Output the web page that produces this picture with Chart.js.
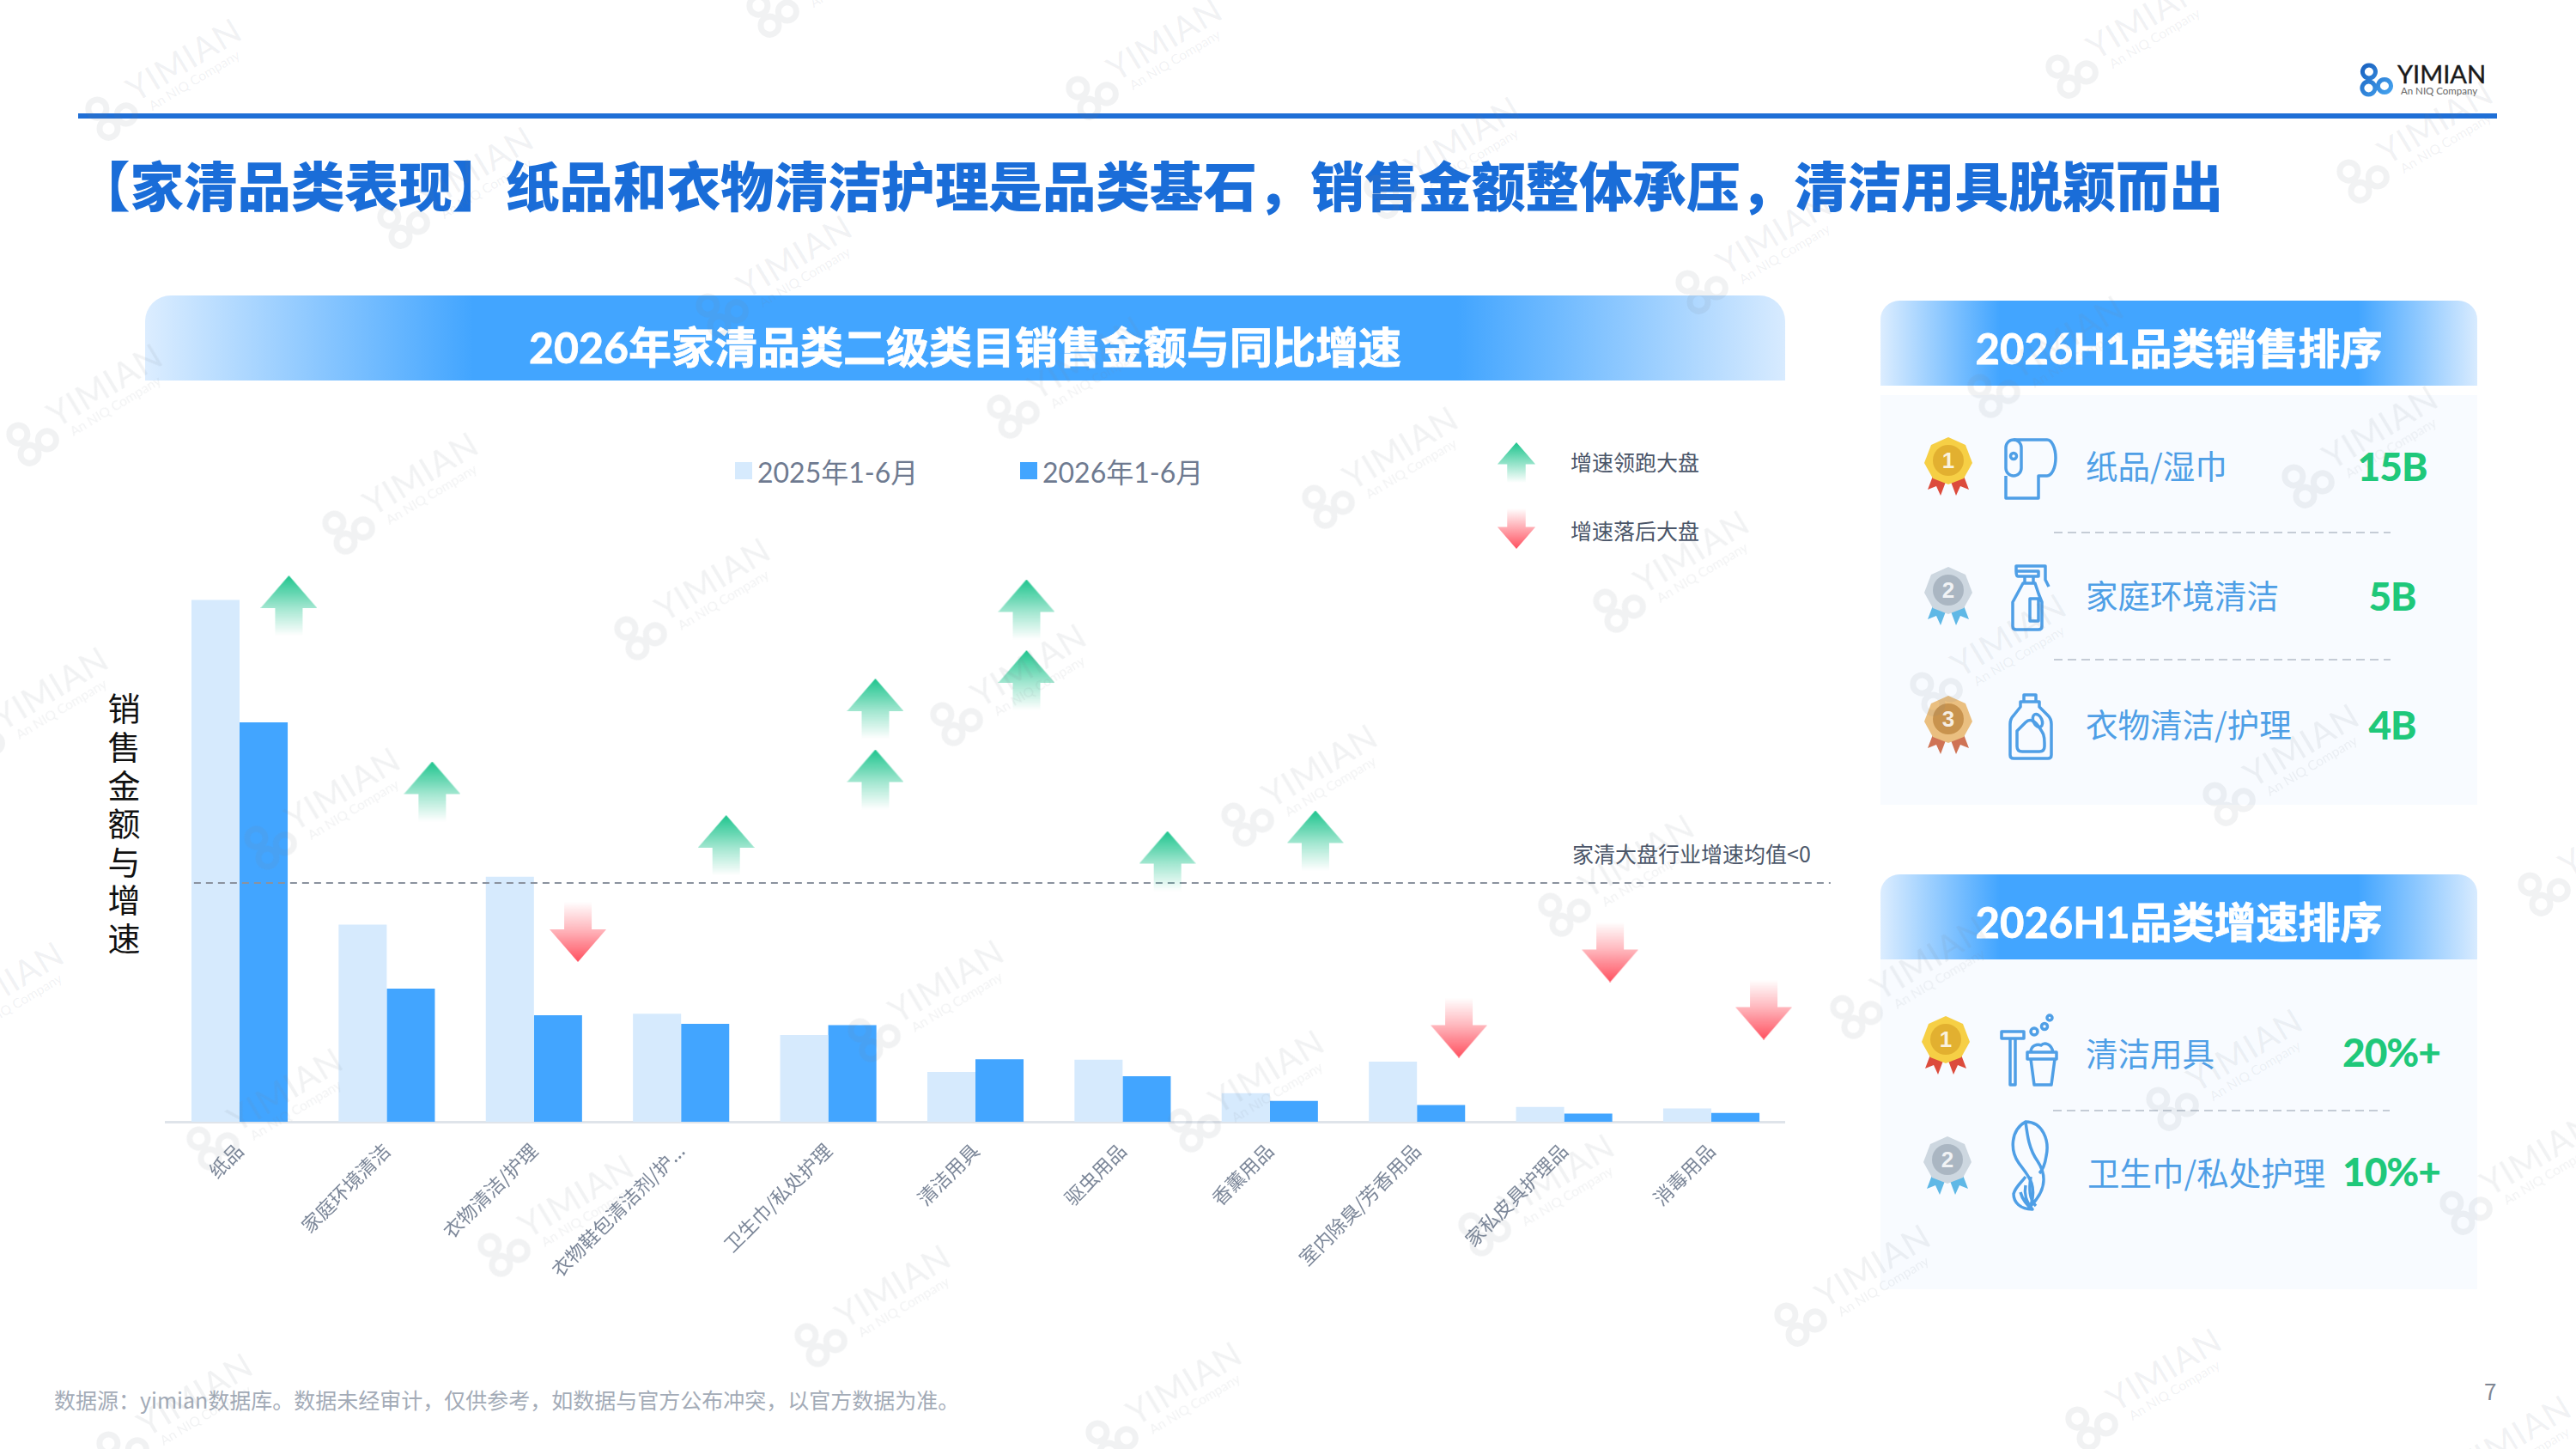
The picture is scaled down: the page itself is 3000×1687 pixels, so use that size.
<!DOCTYPE html>
<html lang="zh-CN">
<head>
<meta charset="utf-8">
<title>家清品类表现</title>
<script src="https://cdn.jsdelivr.net/npm/chart.js@4/dist/chart.umd.min.js"></script>
<style>
  html, body { margin: 0; padding: 0; background: #fff; }
  body { position: relative; width: 3000px; height: 1687px; overflow: hidden; font-family: "Noto Sans CJK SC", sans-serif; }
  .abs { position: absolute; white-space: nowrap; }
  .rule { left: 91px; top: 132px; width: 2817px; height: 6px; background: #1f6fd6; }
  .page-title { left: 89px; top: 168px; font-size: 62.500px; line-height: 92px; font-weight: 900; color: #1a6dd8; }
  .head { color: #fff; font-weight: 700; text-align: center; font-family: Lato, "Noto Sans CJK SC", sans-serif; -webkit-text-stroke: 0.800px #fff;
    background: linear-gradient(90deg, #dcedff 0%, #42a5ff 20%, #42a5ff 80%, #d8ebff 100%); border-radius: 30px 30px 0 0; }
  .panel { left: 2190px; width: 695px; background: #f8fbff; }
  .rank-label { left: 0; font-size: 37.500px; line-height: 50px; color: #4f9fe6; transform: translateY(-50%); }
  .rank-value { font-size: 46px; line-height: 60px; font-weight: 900; letter-spacing: -1px; color: #1fc87a; transform: translate(-50%, -50%); font-family: Lato, "Noto Sans CJK SC", sans-serif; }
  .dash { height: 2px; background: repeating-linear-gradient(90deg, #c5ccd6 0 10px, transparent 10px 16px); }
  .note { font-size: 25px; line-height: 32px; color: #4a5568; transform: translateY(-50%); }
  .legend-item { display: flex; align-items: center; top: 528px; height: 40px; font-size: 32px; color: #6e7a90; font-family: Lato, "Noto Sans CJK SC", sans-serif; }
  .legend-item i { width: 20px; height: 20px; margin-right: 6px; display: block; }
  .y-title { left: 122px; top: 806px; font-size: 38px; line-height: 44px; letter-spacing: 6.600px; color: #111; writing-mode: vertical-rl; text-orientation: upright; }
  .source { left: 63px; top: 1613px; font-size: 25px; line-height: 32px; color: #a3abb7; }
  .page-no { left: 2893px; top: 1604px; font-size: 26px; line-height: 30px; color: #7f8794; }
  #chartBox { position: absolute; left: 100px; top: 450px; }
  .wm { position: absolute; width: 0; height: 0; transform: rotate(-31deg); pointer-events: none; color: rgba(115, 125, 140, 0.1); z-index: 20; font-family: Lato, sans-serif; }
  .wm b { position: absolute; left: -72px; top: -23px; font-size: 40px; line-height: 46px; font-weight: 400; letter-spacing: 1px; white-space: nowrap; }
  .wm span { position: absolute; left: -60px; top: 18px; font-size: 15.500px; line-height: 18px; white-space: nowrap; }
  .wm svg { position: absolute; left: -129px; top: -17px; }
</style>
</head>
<body>
<div class="abs rule"></div>
<div class="abs page-title">【家清品类表现】纸品和衣物清洁护理是品类基石，销售金额整体承压，清洁用具脱颖而出</div>

<svg class="abs" style="left:2748px;top:73px" width="40" height="40" viewBox="0 0 40 40" fill="none">
  <defs><linearGradient id="logoInk" x1="0" y1="0" x2="1" y2="1"><stop offset="0" stop-color="#1a62c0"/><stop offset="1" stop-color="#46a4f0"/></linearGradient></defs>
  <path d="M11 3a7.500 7.500 0 1 1-.1 0ZM10.500 22a7.500 7.500 0 1 1-.1 0ZM29 19.500a7.500 7.500 0 1 1-.1 0Z" stroke="url(#logoInk)" stroke-width="5"/>
</svg>
<div class="abs" style="left:2792px;top:68px;font:400 29px/36px Lato,sans-serif;-webkit-text-stroke:0.400px #1a1a1a;color:#1a1a1a">YIMIAN</div>
<div class="abs" style="left:2796px;top:99px;font:400 11.500px/14px Lato,sans-serif;color:#666">An NIQ Company</div>

<div class="abs head" style="left:169px;top:344px;width:1910px;height:99px;font-size:50px;line-height:120px;overflow:hidden">2026年家清品类二级类目销售金额与同比增速</div>
<div class="abs y-title">销售金额与增速</div>
<div id="legendBox"></div>

<svg class="abs" style="left:1742px;top:515px" width="48" height="47" viewBox="0 0 66 70">
  <defs>
    <linearGradient id="upInk" x1="0" y1="0" x2="0" y2="1"><stop offset="0" stop-color="#1dc48d"/><stop offset="0.55" stop-color="#1dc48d" stop-opacity="0.45"/><stop offset="1" stop-color="#1dc48d" stop-opacity="0"/></linearGradient>
    <linearGradient id="downInk" x1="0" y1="1" x2="0" y2="0"><stop offset="0" stop-color="#ff505f"/><stop offset="0.55" stop-color="#ff505f" stop-opacity="0.45"/><stop offset="1" stop-color="#ff505f" stop-opacity="0"/></linearGradient>
  </defs>
  <path d="M33 0L66 38H49V70H17V38H0Z" fill="url(#upInk)"/>
</svg>
<svg class="abs" style="left:1742px;top:592px" width="48" height="47" viewBox="0 0 66 70">
  <path d="M33 70L66 32H49V0H17V32H0Z" fill="url(#downInk)"/>
</svg>
<div class="abs note" style="left:1829px;top:537px">增速领跑大盘</div>
<div class="abs note" style="left:1829px;top:617px">增速落后大盘</div>
<div class="abs note" style="left:1831px;top:993px">家清大盘行业增速均值&lt;0</div>

<div id="chartBox"><canvas id="mainChart" width="2100" height="1116"></canvas></div>

<div class="abs head" style="left:2190px;top:350px;width:695px;height:99px;font-size:49px;line-height:110px;border-radius:22px 22px 0 0">2026H1品类销售排序</div>
<div class="abs panel" style="top:460px;height:477px"></div>
<div class="abs head" style="left:2190px;top:1018px;width:695px;height:99px;font-size:49px;line-height:110px;border-radius:22px 22px 0 0">2026H1品类增速排序</div>
<div class="abs panel" style="top:1117px;height:384px"></div>
<div id="rankBox"></div>

<div class="abs source">数据源：yimian数据库。数据未经审计，仅供参考，如数据与官方公布冲突，以官方数据为准。</div>
<div class="abs page-no">7</div>
<div id="wmBox"></div>

<script>
const categories = ["纸品", "家庭环境清洁", "衣物清洁/护理", "衣物鞋包清洁剂/护...", "卫生巾/私处护理", "清洁用具", "驱虫用品", "香薰用品", "室内除臭/芳香用品", "家私皮具护理品", "消毒用品"];
const seriesNames = ["2025年1-6月", "2026年1-6月"];
const sales2025 = [19.6, 7.4, 9.2, 4.06, 3.26, 1.87, 2.33, 1.07, 2.26, 0.56, 0.5];
const sales2026 = [15.0, 5.0, 4.0, 3.68, 3.63, 2.35, 1.71, 0.78, 0.63, 0.31, 0.33];

// growth vs. the market average (0 = dashed line), unit is arbitrary
const riseX = [0.335, 1.309, 3.306, 4.32, 4.32, 5.347, 5.347, 6.305, 7.31];
const riseY = [32.3, 10.65, 4.4, 20.3, 12.05, 31.85, 23.6, 2.55, 4.95];
const fallX = [2.299, 8.285, 9.312, 10.356];
const fallY = [-5.7, -16.85, -8.05, -14.75];
const avgX = [-0.31, 10.81];
const avgY = [0, 0];

const salesRankNames = ["纸品/湿巾", "家庭环境清洁", "衣物清洁/护理"];
const salesRankValues = ["15B", "5B", "4B"];
const growthRankNames = ["清洁用具", "卫生巾/私处护理"];
const growthRankValues = ["20%+", "10%+"];

const COLOR_2025 = "#d6eafd";
const COLOR_2026 = "#42a5ff";
const Y_MAX = 25;

// watermark text centres, full size px
const wmSpots = [
  [212, 70], [982, -50], [1354, 46], [552, 196], [923, 299], [120, 449], [488, 552], [1262, 417], [828, 675], [1196, 775], [57, 802],
  [2495, 21], [2834, 143], [2064, 272], [1701, 161], [2404, 393], [1629, 522], [2770, 498], [1968, 643], [2337, 740],
  [397, 919], [1100, 1143], [330, 1269], [669, 1393], [1038, 1498], [1377, 1611], [1535, 892], [1473, 1248], [225, 1624], [5, 1145],
  [1904, 997], [2244, 1116], [2678, 868], [2612, 1223], [3045, 973], [2954, 1344], [1811, 1369], [2179, 1474], [2518, 1595], [2925, 1673],
];

function makeArrow(up) {
  const w = 66;
  const h = 70;
  const c = document.createElement("canvas");
  c.width = w;
  c.height = h;
  const ctx = c.getContext("2d");
  const rgb = up ? "29,196,141" : "255,80,95";
  const grad = ctx.createLinearGradient(0, up ? 0 : h, 0, up ? h : 0);
  grad.addColorStop(0, `rgba(${rgb},1)`);
  grad.addColorStop(0.55, `rgba(${rgb},0.4)`);
  grad.addColorStop(1, `rgba(${rgb},0)`);
  ctx.fillStyle = grad;
  ctx.beginPath();
  if (up) {
    ctx.moveTo(33, 0); ctx.lineTo(66, 38); ctx.lineTo(49, 38); ctx.lineTo(49, 70); ctx.lineTo(17, 70); ctx.lineTo(17, 38); ctx.lineTo(0, 38);
  } else {
    ctx.moveTo(33, 70); ctx.lineTo(66, 32); ctx.lineTo(49, 32); ctx.lineTo(49, 0); ctx.lineTo(17, 0); ctx.lineTo(17, 32); ctx.lineTo(0, 32);
  }
  ctx.closePath();
  ctx.fill();
  return c;
}

function toPoints(xs, ys) {
  return xs.map((x, i) => ({ x, y: ys[i] }));
}

function renderChart() {
  const canvas = document.getElementById("mainChart");
  // parsing off so the x values stay fractional on the category axis; a second x axis would halve the bars
  const arrowSet = (label, xs, ys, up) => ({
    type: "scatter",
    label,
    data: toPoints(xs, ys),
    parsing: false,
    yAxisID: "yGrowth",
    pointStyle: makeArrow(up),
    pointRadius: 33,
    order: 1,
    clip: false,
  });

  return new Chart(canvas, {
    data: {
      labels: categories,
      datasets: [
        { type: "bar", label: seriesNames[0], data: sales2025, backgroundColor: COLOR_2025, order: 3, barPercentage: 1, categoryPercentage: 0.654 },
        { type: "bar", label: seriesNames[1], data: sales2026, backgroundColor: COLOR_2026, order: 3, barPercentage: 1, categoryPercentage: 0.654 },
        {
          type: "scatter",
          label: "均值",
          data: toPoints(avgX, avgY),
          parsing: false,
          yAxisID: "yGrowth",
          showLine: true,
          borderColor: "#8a929e",
          borderWidth: 2,
          borderDash: [8, 6],
          pointRadius: 0,
          order: 2,
          clip: false,
        },
        arrowSet("领跑", riseX, riseY, true),
        arrowSet("落后", fallX, fallY, false),
      ],
    },
    options: {
      responsive: false,
      animation: false,
      indexAxis: "x",
      events: [],
      layout: { padding: { left: 93.3, right: 121.3, top: 81, bottom: 0 } },
      plugins: { legend: { display: false }, tooltip: { enabled: false } },
      scales: {
        x: {
          type: "category",
          grid: { display: false },
          border: { display: true, color: "#dfe4ea", width: 3 },
          ticks: { color: "#7c8799", font: { size: 22.5, family: '"Noto Sans CJK SC"' }, minRotation: 45, maxRotation: 45, padding: 12, autoSkip: false },
          afterFit(scale) { scale.height = 260; },
        },
        y: { display: false, min: 0, max: Y_MAX },
        yGrowth: { type: "linear", display: false, min: -27.8, max: 49.7 },
      },
    },
  });
}

function renderLegend() {
  const box = document.getElementById("legendBox");
  const lefts = [856, 1188];
  box.innerHTML = seriesNames
    .map((name, i) => `<div class="abs legend-item" style="left:${lefts[i]}px"><i style="background:${i ? COLOR_2026 : COLOR_2025}"></i>${name}</div>`)
    .join("");
}

function medal(rank, x, y) {
  const inks = [
    ["#f6cf45", "#e2b030", "#dc4b3c"],
    ["#cdd7e0", "#aab6c2", "#5fb8e6"],
    ["#eabf80", "#c8934e", "#cf7355"],
  ][rank - 1];
  return `<svg class="abs" style="left:${x - 28}px;top:${y - 34}px" width="56" height="68" viewBox="0 0 56 68">
    <path d="M12 40L4 61L14 57L19 68L28 44Z" fill="${inks[2]}"/><path d="M44 40L52 61L42 57L37 68L28 44Z" fill="${inks[2]}"/>
    <path d="M28 0L48 9L56 30L46 48L28 55L10 48L0 30L8 9Z" fill="${inks[0]}"/>
    <circle cx="28" cy="27" r="18" fill="${inks[1]}"/>
    <text x="28" y="36" text-anchor="middle" font-size="26" font-weight="700" font-family="Liberation Sans" fill="#fff" fill-opacity="0.85">${rank}</text>
  </svg>`;
}

const ICONS = [
  // roll
  `<svg viewBox="0 0 62 74" width="62" height="74"><rect x="2" y="4" width="18" height="42" rx="9"/><circle cx="11" cy="23" r="3.500"/><path d="M11 4H50a10 21 0 0 1 0 42H40V72H2V46"/></svg>`,
  // spray
  `<svg viewBox="0 0 46 78" width="46" height="78"><path d="M6 8V2H40V18L44 26M6 8H32V14H8Q6 14 6 8ZM16 14V22H26V14M14 22H28L32 34V34L36 44V72Q36 76 32 76H6Q2 76 2 72V44ZM22 40H32V66H22Z"/></svg>`,
  // detergent
  `<svg viewBox="0 0 52 78" width="52" height="78"><path d="M18 2H32V10H18ZM14 10H36V16L46 26Q50 30 50 36V72Q50 76 46 76H6Q2 76 2 72V36Q2 30 6 26L14 16Z"/><path d="M10 44L20 34C26 28 32 34 36 40C40 46 42 48 42 58V62Q42 68 36 68H16Q10 68 10 62Z"/><ellipse cx="34" cy="32" rx="5" ry="8" transform="rotate(-25 34 32)"/></svg>`,
  // squeegee and bucket
  `<svg viewBox="0 0 68 88" width="68" height="88"><path d="M2 22H28V30H2Z M12 30V84H18V30"/><path d="M32 46H66V54H32ZM36 54L40 84H60L64 54M36 46C36 38 44 36 48 38C52 34 60 36 62 46"/><circle cx="40" cy="22" r="4"/><circle cx="52" cy="16" r="3.500"/><circle cx="58" cy="6" r="3"/></svg>`,
  // hair
  `<svg viewBox="0 0 48 106" width="48" height="106"><path d="M20 2C2 12 2 36 12 50C22 64 34 74 26 100C42 84 46 66 34 48C24 34 22 18 20 2C40 2 48 24 44 42C42 56 38 60 36 62"/><path d="M14 84C16 92 22 100 28 104C14 104 6 96 6 86C8 78 14 74 20 66M20 76C18 86 20 94 28 104M26 66C24 80 24 92 32 100"/></svg>`,
];

function icon(index, x, y) {
  return `<div class="abs rank-icon" style="left:${x}px;top:${y}px;transform:translate(-50%,-50%);line-height:0">${ICONS[index].replace("<svg ", '<svg fill="none" stroke="#4f9fe6" stroke-width="3.500" stroke-linejoin="round" ')}</div>`;
}

function renderRanks() {
  const rows = [];
  const labelX = 2429;
  const salesY = [543, 694, 844];
  salesRankNames.forEach((name, i) => {
    rows.push(medal(i + 1, 2269, salesY[i]));
    rows.push(icon(i, 2365, salesY[i] + 2));
    rows.push(`<div class="abs rank-label" style="left:${labelX}px;top:${salesY[i] - 2}px">${name}</div>`);
    rows.push(`<div class="abs rank-value" style="left:2786px;top:${salesY[i]}px">${salesRankValues[i]}</div>`);
  });
  [619, 767].forEach((y) => rows.push(`<div class="abs dash" style="left:2392px;top:${y}px;width:392px"></div>`));

  const growthY = [1225, 1364];
  const medalY = [1217, 1357];
  const iconIdx = [3, 4];
  growthRankNames.forEach((name, i) => {
    rows.push(medal(i + 1, 2266 + i * 2, medalY[i]));
    rows.push(icon(iconIdx[i], 2363, i ? 1357 : 1223));
    rows.push(`<div class="abs rank-label" style="left:${labelX + i * 2}px;top:${growthY[i]}px">${name}</div>`);
    rows.push(`<div class="abs rank-value" style="left:2785px;top:${growthY[i]}px">${growthRankValues[i]}</div>`);
  });
  rows.push(`<div class="abs dash" style="left:2391px;top:1292px;width:392px"></div>`);
  document.getElementById("rankBox").innerHTML = rows.join("");
}

function renderWatermarks() {
  document.getElementById("wmBox").innerHTML = wmSpots
    .map(([x, y]) => `<div class="wm" style="left:${x}px;top:${y}px"><svg width="56" height="56" viewBox="0 0 40 40" fill="none" stroke="currentColor" stroke-width="5"><path d="M11 3a7.500 7.500 0 1 1-.1 0ZM10.500 22a7.500 7.500 0 1 1-.1 0ZM29 19.500a7.500 7.500 0 1 1-.1 0Z"/></svg><b>YIMIAN</b><span>An NIQ Company</span></div>`)
    .join("");
}

renderLegend();
renderChart();
renderRanks();
renderWatermarks();
</script>
</body>
</html>
